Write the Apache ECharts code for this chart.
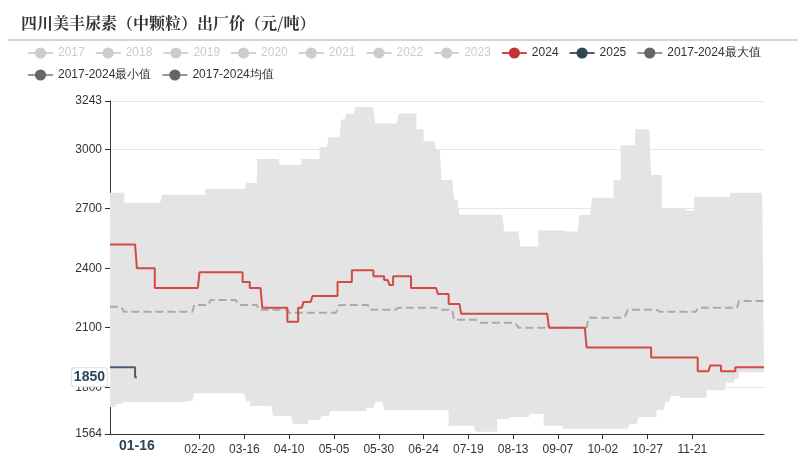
<!DOCTYPE html>
<html><head><meta charset="utf-8">
<script src="https://cdn.jsdelivr.net/npm/echarts@6/dist/echarts.min.js"></script>
<style>html,body{margin:0;padding:0;background:#fff}#main{width:806px;height:460px}</style>
</head><body><div id="main"></div>
<script>
// change points: [day index from 01-01, value]; value holds until next point
const s2024 = [[0,2520],[15,2400],[25,2300],[50,2380],[74,2330],[78,2300],[85,2200],[99,2130],[105,2200],[108,2230],[113,2260],[127,2330],[135,2390],[147,2360],[153,2340],[156,2315],[158,2360],[168,2300],[183,2270],[189,2220],[196,2170],[245,2100],[266,2000],[302,1950],[328,1880],[335,1910],[341,1880],[349,1900]];
const s2025 = [[0,1900],[14,1850],[15,1850]];
const sMax = [[0,2780],[8,2730],[29,2770],[53,2800],[76,2830],[82,2950],[95,2920],[107,2950],[117,3010],[122,3060],[129,3150],[132,3180],[137,3213],[148,3130],[161,3180],[171,3100],[175,3040],[182,3000],[185,2845],[192,2745],[195,2670],[220,2585],[229,2510],[239,2590],[254,2585],[262,2670],[269,2755],[281,2845],[285,3020],[293,3100],[302,2870],[308,2700],[320,2690],[326,2760],[346,2780]];
const sMin = [[0,1700],[3,1715],[8,1725],[44,1730],[46,1770],[75,1730],[78,1705],[90,1655],[101,1615],[110,1635],[117,1655],[122,1680],[143,1695],[147,1725],[152,1685],[189,1605],[203,1575],[216,1640],[223,1650],[234,1665],[242,1605],[252,1590],[289,1615],[294,1650],[305,1685],[309,1725],[312,1755],[319,1745],[333,1785],[343,1823],[348,1845],[351,1875]];
const sMean = [[0,2205],[8,2180],[47,2215],[56,2240],[72,2215],[83,2190],[100,2175],[128,2215],[145,2190],[161,2200],[184,2190],[192,2140],[206,2125],[228,2100],[267,2150],[289,2190],[306,2180],[328,2200],[351,2235]];
const yTicks = [1564,1800,2100,2400,2700,3000,3243];
const monthDays = [31,29,31,30,31,30,31,31,30,31,30,31];

const days = [];
monthDays.forEach((n, m) => { for (let d = 1; d <= n; d++) days.push(String(m+1).padStart(2,'0') + '-' + String(d).padStart(2,'0')); });
const lastDay = days.length - 1;

function expand(pts, last) {
  const out = [];
  let k = 0;
  for (let i = 0; i <= last; i++) {
    while (k + 1 < pts.length && pts[k+1][0] <= i) k++;
    out.push(pts[k][1]);
  }
  return out;
}
const d2024 = expand(s2024, lastDay);
const d2025 = expand(s2025, 15);
const dMax = expand(sMax, lastDay);
const dMin = expand(sMin, lastDay);
const dMean = expand(sMean, lastDay);
const dRange = dMax.map((v, i) => v - dMin[i]);

const chart = echarts.init(document.getElementById('main'));
const grey = ['2017','2018','2019','2020','2021','2022','2023'];
const sel = {}; grey.forEach(g => sel[g] = false);
const emptySeries = grey.map(g => ({name: g, type: 'line', data: [], symbol: 'circle', itemStyle: {color: '#ccc'}}));
const bandLegend = n => ({name: n, itemStyle: {color: '#666', opacity: 1}, lineStyle: {color: '#999', opacity: 1, width: 2, type: 'solid'}});
const labelIdx = i => i % 25 === 0 && i >= 50 && i <= 325;

chart.setOption({
  animation: false,
  title: {text: '四川美丰尿素（中颗粒）出厂价（元/吨）', left: 16, top: 10,
    textStyle: {fontSize: 16, fontWeight: 'bold', color: '#333', fontFamily: 'Noto Serif CJK SC, Noto Sans CJK SC, serif'}},
  graphic: [
    {type: 'line', shape: {x1: 8, y1: 40, x2: 798, y2: 40}, style: {stroke: '#aaa', lineWidth: 1}},
    {type: 'text', left: 333, top: 209, style: {text: '紫金天风期货', fontSize: 20, fill: '#aaa', fontFamily: 'Noto Sans CJK SC'}}
  ],
  legend: {left: 22, top: 42, width: 780, itemGap: 10, itemWidth: 25, itemHeight: 14,
    selected: sel, inactiveColor: '#ccc', textStyle: {fontSize: 12, color: '#333'},
    data: grey.concat(['2024','2025', bandLegend('2017-2024最大值'), bandLegend('2017-2024最小值'), bandLegend('2017-2024均值')])},
  grid: {left: 110, right: 42, top: 101, bottom: 26},
  xAxis: {type: 'category', data: days, boundaryGap: false,
    axisLine: {lineStyle: {color: '#333'}}, axisTick: {show: true, interval: labelIdx, lineStyle: {color: '#333'}},
    axisLabel: {interval: labelIdx, color: '#333', fontSize: 12, margin: 10},
    axisPointer: {show: true, value: '01-16', status: 'show', type: 'none',
      label: {backgroundColor: '#fff', color: '#2d4357', fontWeight: 'bold', fontSize: 14, padding: [2, 6]}}},
  yAxis: {type: 'value', min: 1564, max: 3243,
    axisLine: {show: true, lineStyle: {color: '#333'}},
    axisTick: {show: true, customValues: yTicks},
    axisLabel: {customValues: yTicks, color: '#333', fontSize: 12, formatter: v => String(v)},
    splitLine: {lineStyle: {color: '#e6e6e6'}},
    axisPointer: {show: true, value: 1850, status: 'show', type: 'none',
      label: {formatter: p => Math.round(p.value), backgroundColor: '#fff', color: '#2d4357', fontWeight: 'bold', fontSize: 14,
        borderColor: '#ddd', borderWidth: 1, padding: [2, 2]}}},
  series: emptySeries.concat([
    {name: '2017-2024最小值', type: 'line', step: 'end', data: dMin, stack: 'band', symbol: 'circle', showSymbol: false,
      lineStyle: {opacity: 0}, itemStyle: {color: '#666'}},
    {name: '2017-2024最大值', type: 'line', step: 'end', data: dRange, stack: 'band', symbol: 'circle', showSymbol: false,
      lineStyle: {opacity: 0}, areaStyle: {color: '#e4e4e4', opacity: 1}, itemStyle: {color: '#666'}},
    {name: '2017-2024均值', type: 'line', data: dMean, symbol: 'circle', showSymbol: false,
      lineStyle: {color: '#aaa', type: 'dashed', width: 2}, itemStyle: {color: '#666'}},
    {name: '2024', type: 'line', step: 'end', data: d2024, symbol: 'circle', showSymbol: false,
      lineStyle: {color: '#d24a43', width: 2}, itemStyle: {color: '#c23531'}},
    {name: '2025', type: 'line', step: 'end', data: d2025, symbol: 'circle', showSymbol: false,
      lineStyle: {color: '#4a5d70', width: 2}, itemStyle: {color: '#2f4554'}}
  ])
});
</script></body></html>
